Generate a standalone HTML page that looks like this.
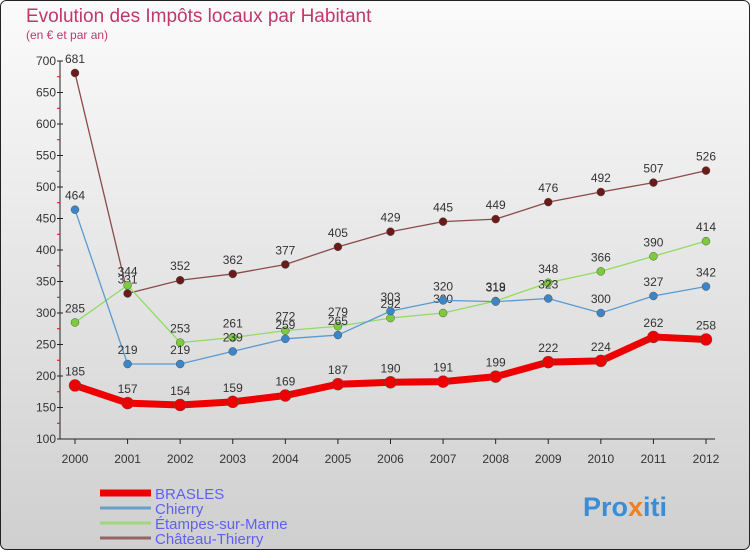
<!DOCTYPE html>
<html><head><meta charset="utf-8"><style>
body{margin:0;width:750px;height:550px;overflow:hidden;font-family:"Liberation Sans",sans-serif}
</style></head><body>
<svg id="c" width="750" height="550" xmlns="http://www.w3.org/2000/svg">
<defs><linearGradient id="bg" x1="0" y1="0" x2="0" y2="1"><stop offset="0" stop-color="#fbfbfb"/><stop offset="1" stop-color="#cfcfcf"/></linearGradient></defs>
<rect x="0.5" y="0.5" width="749" height="549" rx="6" fill="url(#bg)" stroke="#222"/>
<text x="26" y="22" font-size="19" fill="#c0386a">Evolution des Impôts locaux par Habitant</text>
<text x="26" y="39" font-size="12" fill="#c0386a">(en € et par an)</text>
<g id="axes"></g><g id="series"></g><g id="legend"></g>
<text x="583" y="516" font-size="27" font-weight="bold" fill="#3a8ed8">Pro<tspan fill="#f08020">x</tspan><tspan fill="#3a8ed8">iti</tspan></text>
</svg>
<script>
const years=[2000,2001,2002,2003,2004,2005,2006,2007,2008,2009,2010,2011,2012];
const yTicks=[100,150,200,250,300,350,400,450,500,550,600,650,700];
const brasles=[185,157,154,159,169,187,190,191,199,222,224,262,258];
const chierry=[464,219,219,239,259,265,303,320,318,323,300,327,342];
const etampes=[285,344,253,261,272,279,292,300,319,348,366,390,414];
const chateau=[681,331,352,362,377,405,429,445,449,476,492,507,526];
const NS="http://www.w3.org/2000/svg";
const X=i=>75+i*(706-75)/12;
const Y=v=>439-(v-100)*(439-61)/600;
function mk(t,a,p){const e=document.createElementNS(NS,t);for(const k in a)e.setAttribute(k,a[k]);p.appendChild(e);return e;}
const ax=document.getElementById('axes');
const yl=mk('line',{x1:60,y1:61,x2:60,y2:439,stroke:'#222'},ax);


const xl=mk('line',{x1:60,y1:439,x2:715,y2:439,stroke:'#222'},ax);


yTicks.forEach(v=>{
 mk('line',{x1:57,y1:Y(v),x2:63,y2:Y(v),stroke:'#222'},ax);
 if(v<700) mk('line',{x1:57,y1:Y(v+25),x2:60,y2:Y(v+25),stroke:'#e00'},ax);
 const t=mk('text',{x:56,y:Y(v)+4,'text-anchor':'end','font-size':12,fill:'#333'},ax);t.textContent=v;
 
 
});
years.forEach((y,i)=>{
 mk('line',{x1:X(i),y1:439,x2:X(i),y2:444,stroke:'#222'},ax);
 const t=mk('text',{x:X(i),y:463,'text-anchor':'middle','font-size':12,fill:'#333'},ax);t.textContent=y;
 
 
});
const sg=document.getElementById('series');
function draw(data,color,dot,w,r,name){
 const g=mk('g',{},sg);
 
 
 mk('polyline',{points:data.map((v,i)=>X(i)+','+Y(v)).join(' '),fill:'none',stroke:color,'stroke-width':w,'stroke-linejoin':'round'},g);
 data.forEach((v,i)=>{
  const c=mk('circle',{cx:X(i),cy:Y(v),r:r,fill:dot,stroke:'#555','stroke-width':0.5},g);
  
  
  const t=mk('text',{x:X(i),y:Y(v)-10,'text-anchor':'middle','font-size':12,fill:'#333'},g);t.textContent=v;
  
  
 });
}
draw(chateau,'#8b4a4a','#6b1a1a',1.3,4,'chateau-thierry');
draw(etampes,'#8fdc60','#7ccc3a',1.3,4,'etampes-sur-marne');
draw(chierry,'#5a9ad0','#3a86c8',1.3,4,'chierry');
draw(brasles,'#ee0000','#ee0000',7,6,'brasles');
const lg=document.getElementById('legend');
[['BRASLES','#ee0000',7],['Chierry','#6aa0c8',3],['Étampes-sur-Marne','#9fd878',3],['Château-Thierry','#956565',3]].forEach((d,i)=>{
 const y=493+i*15;
 const g=mk('g',{},lg);
 
 
 mk('line',{x1:100,y1:y,x2:151,y2:y,stroke:d[1],'stroke-width':d[2]},g);
 const t=mk('text',{x:155,y:y+6,'font-size':15,fill:'#6060f0'},g);t.textContent=d[0];
});
</script>
</body></html>
